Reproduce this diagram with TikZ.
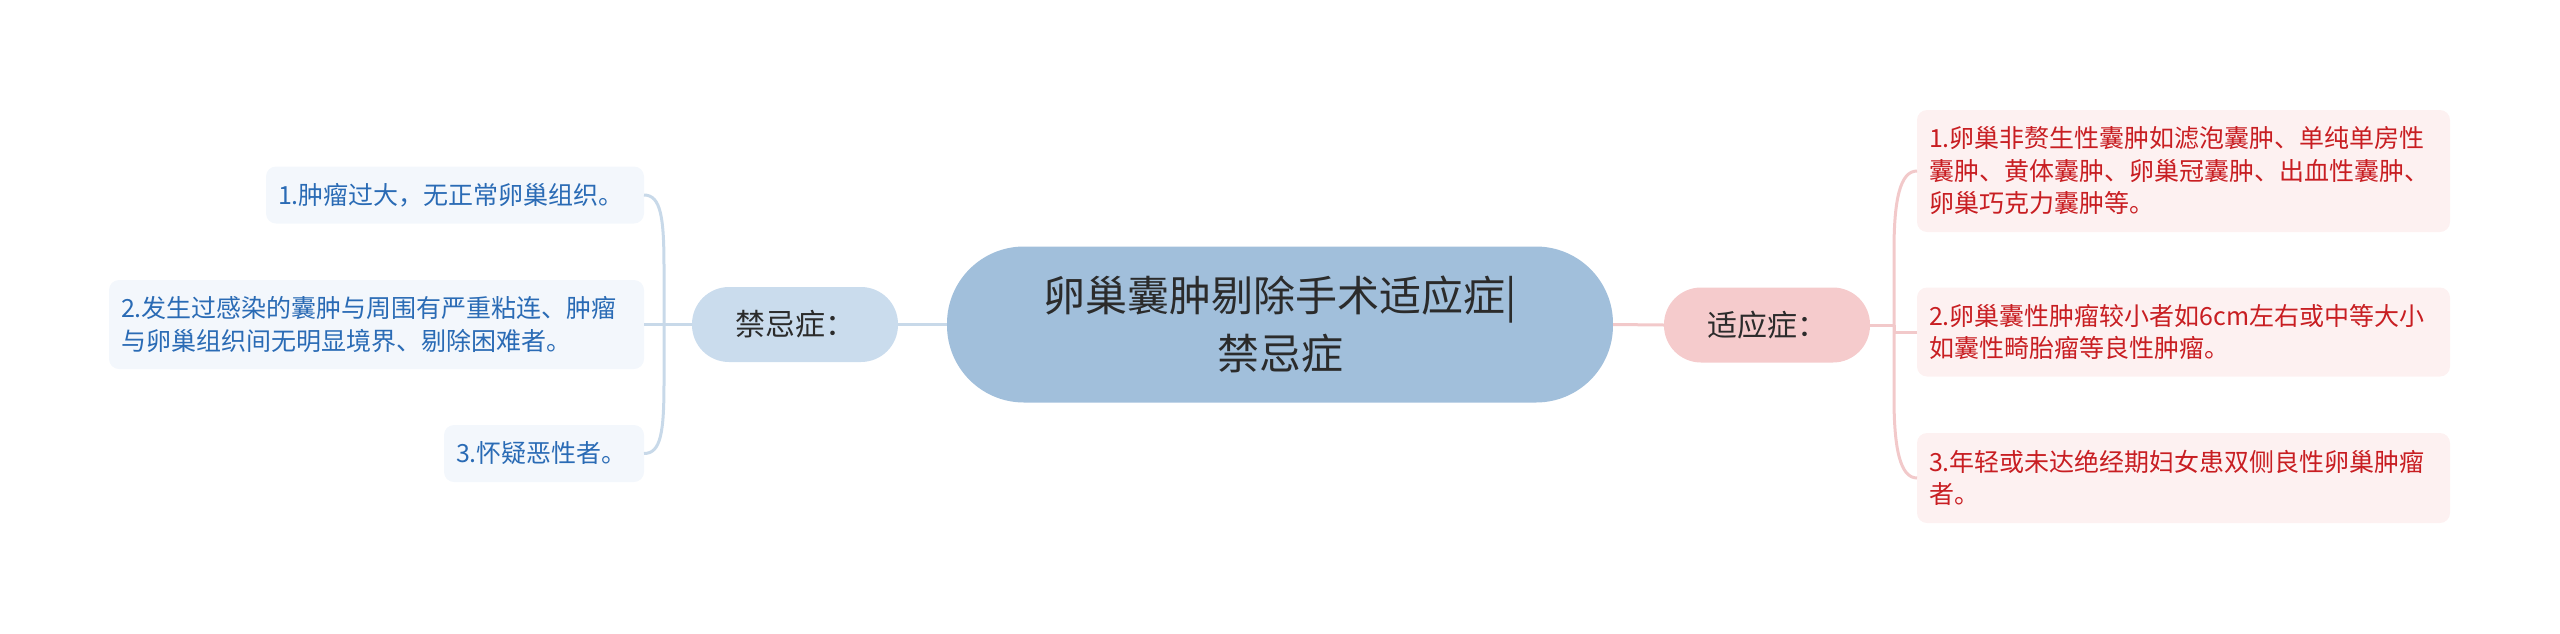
\documentclass[tikz,border=0pt]{standalone}
\usepackage{fontspec}
\setmainfont{Noto Sans CJK SC}
\definecolor{cmain}{HTML}{A1BFDB}
\definecolor{cjj}{HTML}{CADCED}
\definecolor{csy}{HTML}{F5CBCC}
\definecolor{clleaf}{HTML}{F3F7FC}
\definecolor{crleaf}{HTML}{FDF1F1}
\definecolor{cltext}{HTML}{2A6BB5}
\definecolor{crtext}{HTML}{C81E22}
\definecolor{clline}{HTML}{C8D9E9}
\definecolor{crline}{HTML}{F2C9CA}
\definecolor{ctext}{HTML}{2B2B2B}
\begin{document}
\begin{tikzpicture}[x=1pt,y=-1pt,
  every node/.style={inner sep=0pt, outer sep=0pt},
  mainbox/.style={fill=cmain, rounded corners=77pt, minimum width=666pt, minimum height=156pt,
    text=ctext, align=center, font=\fontsize{42}{58}\selectfont},
  subbox/.style={rounded corners=37pt, minimum width=206pt, minimum height=75pt,
    text=ctext, font=\fontsize{30}{36}\selectfont},
  leafbox/.style={rounded corners=10pt, inner xsep=12pt, align=left,
    font=\fontsize{25}{32.5}\selectfont},
  lleaf/.style={leafbox, fill=clleaf, text=cltext, anchor=east},
  rleaf/.style={leafbox, fill=crleaf, text=crtext, anchor=west, text width=509pt},
  lconn/.style={draw=clline, line width=3pt},
  rconn/.style={draw=crline, line width=3pt},
]
\useasboundingbox (0,0) rectangle (2560,633);

\node[mainbox] (main) at (1280,324.5) {卵巢囊肿剔除手术适应症|\\禁忌症};
\node[subbox, fill=cjj] (jj) at (795,324.5) {禁忌症：};
\node[subbox, fill=csy] (sy) at (1767,325) {适应症：};

\node[lleaf, text width=354pt, minimum height=57pt] (L1) at (644,195) {1.肿瘤过大，无正常卵巢组织。};
\node[lleaf, text width=511pt, minimum height=89pt] (L2) at (644,324.5) {2.发生过感染的囊肿与周围有严重粘连、肿瘤\\与卵巢组织间无明显境界、剔除困难者。};
\node[lleaf, text width=176pt, minimum height=57pt] (L3) at (644,453.5) {3.怀疑恶性者。};

\node[rleaf, minimum height=122pt] (R1) at (1917,171) {1.卵巢非赘生性囊肿如滤泡囊肿、单纯单房性\\囊肿、黄体囊肿、卵巢冠囊肿、出血性囊肿、\\卵巢巧克力囊肿等。};
\node[rleaf, minimum height=89pt] (R2) at (1917,332) {2.卵巢囊性肿瘤较小者如6cm左右或中等大小\\如囊性畸胎瘤等良性肿瘤。};
\node[rleaf, minimum height=90pt] (R3) at (1917,478) {3.年轻或未达绝经期妇女患双侧良性卵巢肿瘤\\者。};

\coordinate (spL) at (664,324.5);
\coordinate (spR) at (1894,325);
\coordinate (cL1) at (664,268);
\coordinate (cL3) at (664,382);
\coordinate (cR1) at (1894,250);
\coordinate (cR3) at (1894,398);

\draw[lconn] (main.west) -- (jj.east);
\draw[lconn] (jj.west) -- (L2.east);
\draw[lconn] (L1.east) .. controls +(17,0) and +(0,-50) .. (cL1) -- (spL);
\draw[lconn] (L3.east) .. controls +(17,0) and +(0,50) .. (cL3) -- (spL);

\draw[rconn] (main.east) -- (sy.west);
\draw[rconn] (sy.east) -- (spR);
\draw[rconn] (R1.west) .. controls +(-17,0) and +(0,-50) .. (cR1) -- (spR);
\draw[rconn] (R2.west) -| (spR);
\draw[rconn] (R3.west) .. controls +(-17,0) and +(0,50) .. (cR3) -- (spR);
\end{tikzpicture}
\end{document}
